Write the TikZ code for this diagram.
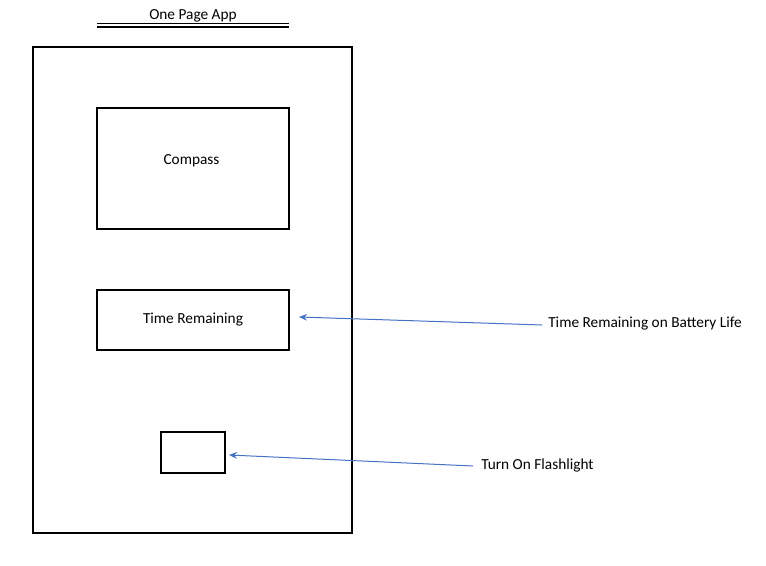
\documentclass[tikz,border=0pt]{standalone}
\usepackage{fontspec}
\setmainfont{Carlito}
\usepackage{xcolor}
\definecolor{callblue}{RGB}{68,114,196}
\usepackage{tikz}
\usetikzlibrary{arrows.meta, positioning, calc}

\begin{document}
\begin{tikzpicture}[
  x=0.75pt, y=-0.75pt,
  frame/.style={rectangle, draw=black, line width=1.5pt, inner sep=0pt},
  plain/.style={font=\fontsize{11.5}{13}\selectfont, inner sep=1pt},
  callout/.style={-{Stealth[length=6pt, width=5pt]}, draw=callblue, line width=0.75pt}
]
\useasboundingbox (0, 0) rectangle (766, 566);

% Title
\node[plain] (title) at (193, 16) {One Page App};
\draw[line width=1.1pt] (97, 23.5) -- (289, 23.5);
\draw[line width=1.1pt] (97, 26.8) -- (289, 26.8);

% Phone outline
\node[frame, minimum width=239.25pt, minimum height=364.5pt] (phone) at (192.5, 290) {};

% Screen parts
\node[frame, minimum width=144pt, minimum height=90.75pt] (compass) at (193, 168.5) {};
\node[plain] (compasstxt) at (191.5, 160.5) {Compass};
\node[frame, minimum width=144pt, minimum height=45pt, plain] (remain) at (193, 320) {Time Remaining};
\node[frame, minimum width=48pt, minimum height=30.75pt] (torch) at (193, 452.5) {};

% Notes
\node[plain, anchor=west, inner xsep=4.5pt] (batnote) at (542, 324) {Time Remaining on Battery Life};
\node[plain, anchor=west, inner xsep=6pt] (torchnote) at (473, 465) {Turn On Flashlight};

\coordinate (remaintip) at (299, 317);
\coordinate (torchtip) at (229, 455);

% Callouts
\draw[callout] ([yshift=-0.75pt]batnote.west) -- (remaintip);
\draw[callout] ([yshift=-0.75pt]torchnote.west) -- (torchtip);

\end{tikzpicture}
\end{document}
